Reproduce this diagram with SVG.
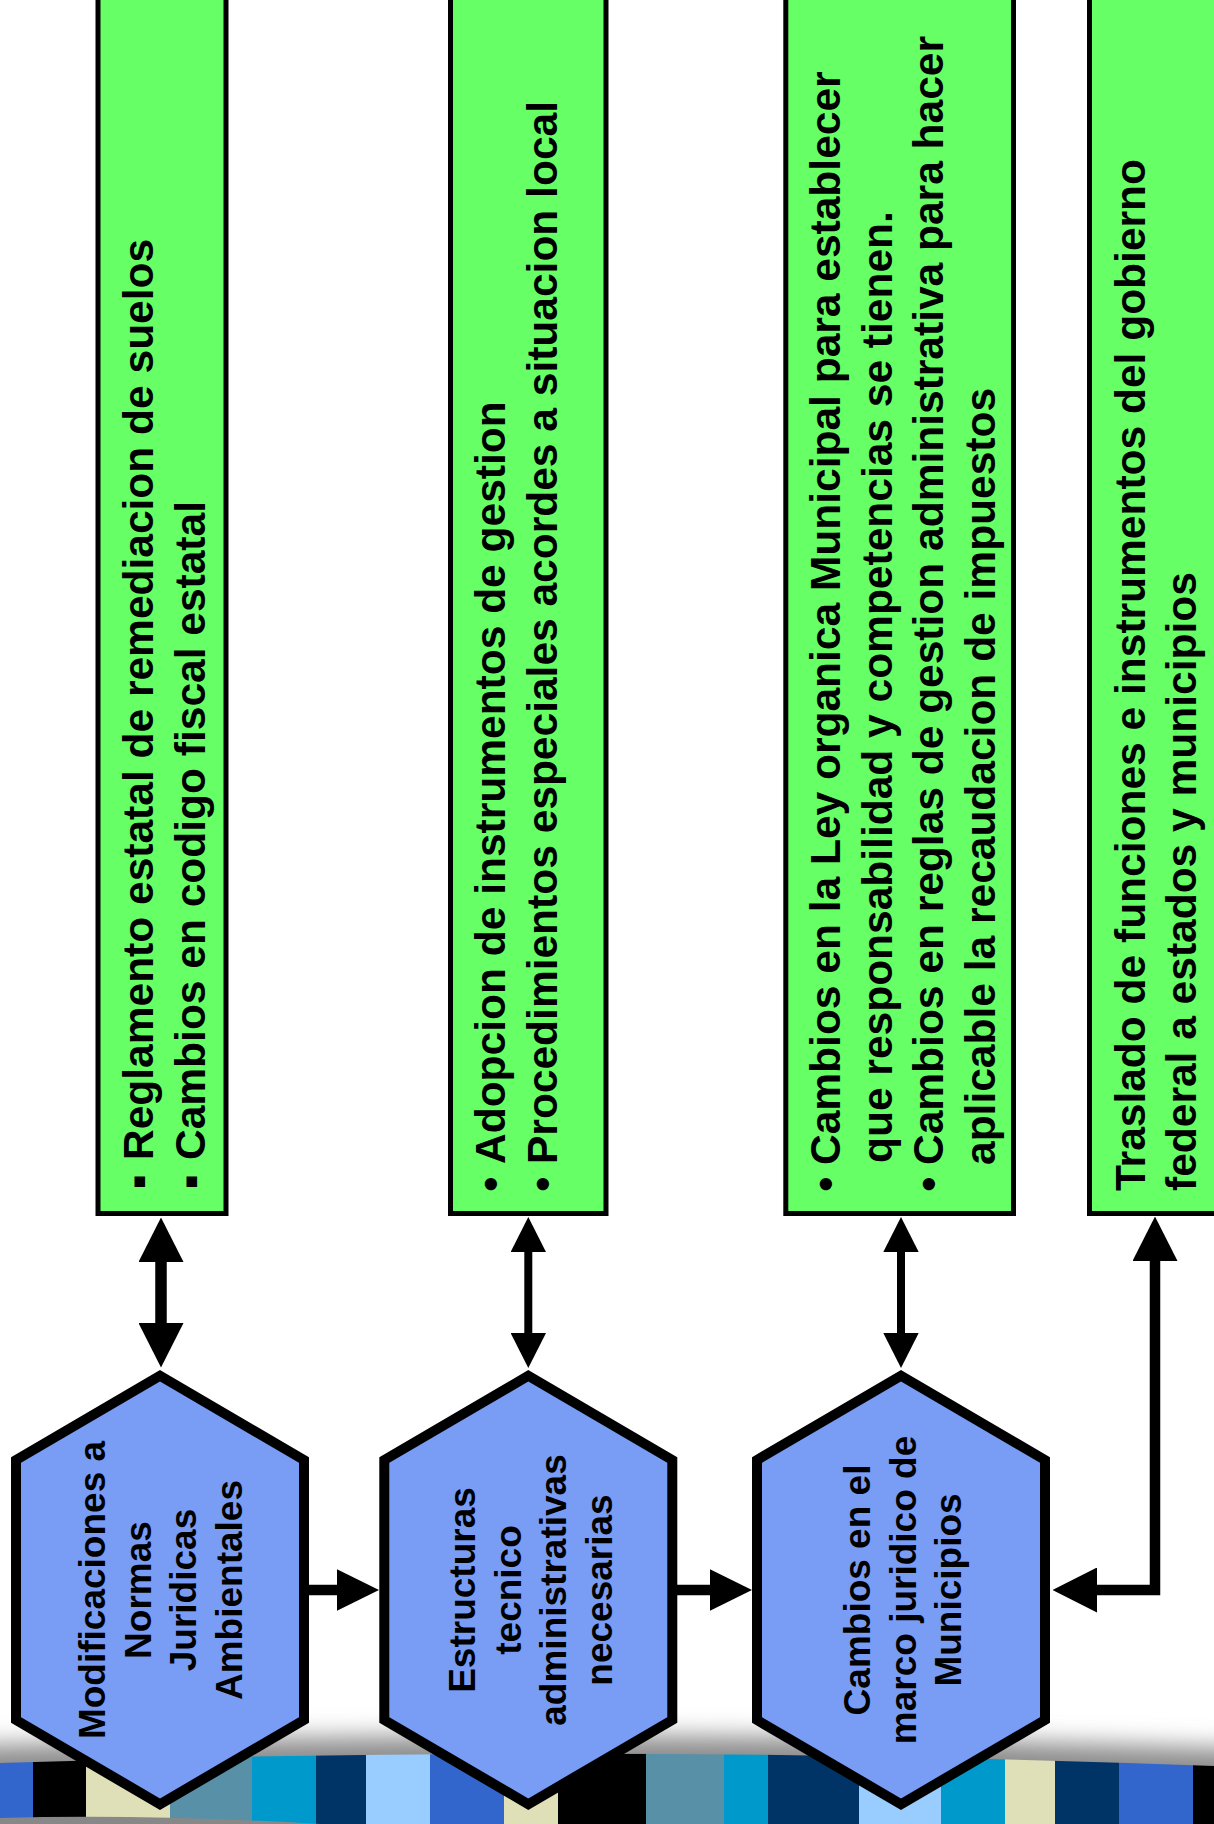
<svg xmlns="http://www.w3.org/2000/svg" width="1214" height="1824" viewBox="0 0 1214 1824">
<defs>
<style>
.box{fill:#66FF66;stroke:#000;stroke-width:5}
.hex{fill:#799DF5;stroke:#000;stroke-width:10;stroke-linejoin:miter;stroke-miterlimit:10}
.bt{font-family:"Liberation Sans",Arial,sans-serif;font-weight:bold;font-size:42.5px;fill:#000}
.bl{font-family:"Liberation Sans",Arial,sans-serif;font-weight:bold;font-size:42.5px;fill:#000;text-anchor:middle}
.ht{font-family:"Liberation Sans",Arial,sans-serif;font-weight:bold;font-size:37px;fill:#000;text-anchor:middle;dominant-baseline:central}
.con{fill:none;stroke:#000;stroke-linejoin:miter}
</style>
<marker id="ahL" viewBox="0 0 44.5 45" markerWidth="44.5" markerHeight="45" refX="0" refY="22.5" orient="auto-start-reverse" markerUnits="userSpaceOnUse"><path d="M0,0 L44.5,22.5 L0,45 Z" fill="#000"/></marker>
<marker id="ahS" viewBox="0 0 35 35.4" markerWidth="35" markerHeight="35.4" refX="0" refY="17.7" orient="auto-start-reverse" markerUnits="userSpaceOnUse"><path d="M0,0 L35,17.7 L0,35.4 Z" fill="#000"/></marker>
<marker id="ahH" viewBox="0 0 42 41.4" markerWidth="42" markerHeight="41.4" refX="0" refY="20.7" orient="auto" markerUnits="userSpaceOnUse"><path d="M0,0 L42,20.7 L0,41.4 Z" fill="#000"/></marker>
<filter id="sh" x="0" y="-1" width="1" height="3"><feGaussianBlur stdDeviation="0 12"/></filter>
<clipPath id="band"><path d="M0,1763 Q607,1743 1214,1766 L1214,1824 L0,1824 Z"/></clipPath>
</defs>

<g id="background">
<path d="M0,1745 Q607,1725 1214,1748 L1214,1800 L0,1800 Z" fill="#8c8c8c" filter="url(#sh)"/>
<g clip-path="url(#band)">
<rect x="0" y="1730" width="33" height="94" fill="#3366CC"/>
<rect x="33" y="1730" width="53" height="94" fill="#000"/>
<rect x="86" y="1730" width="84" height="94" fill="#E0E0B8"/>
<rect x="170" y="1730" width="82" height="94" fill="#5890A8"/>
<rect x="252" y="1730" width="64" height="94" fill="#0099CC"/>
<rect x="316" y="1730" width="50" height="94" fill="#003366"/>
<rect x="366" y="1730" width="64" height="94" fill="#99CCFF"/>
<rect x="430" y="1730" width="74" height="94" fill="#3366CC"/>
<rect x="504" y="1730" width="54" height="94" fill="#E0E0B8"/>
<rect x="558" y="1730" width="88" height="94" fill="#000"/>
<rect x="646" y="1730" width="78" height="94" fill="#5890A8"/>
<rect x="724" y="1730" width="44" height="94" fill="#0099CC"/>
<rect x="768" y="1730" width="91" height="94" fill="#003366"/>
<rect x="859" y="1730" width="82" height="94" fill="#99CCFF"/>
<rect x="941" y="1730" width="64" height="94" fill="#0099CC"/>
<rect x="1005" y="1730" width="50" height="94" fill="#E0E0B8"/>
<rect x="1055" y="1730" width="64" height="94" fill="#003366"/>
<rect x="1119" y="1730" width="74" height="94" fill="#3366CC"/>
<rect x="1193" y="1730" width="21" height="94" fill="#000"/>
</g>
<path d="M0,1818 Q150,1814 320,1824 L0,1824 Z" fill="#888"/>
</g>

<g id="connectors">
<path class="con" d="M161,1262 V1323" stroke-width="11.5" marker-start="url(#ahL)" marker-end="url(#ahL)"/>
<path class="con" d="M528.3,1252 V1333" stroke-width="8" marker-start="url(#ahS)" marker-end="url(#ahS)"/>
<path class="con" d="M901,1252 V1333" stroke-width="8" marker-start="url(#ahS)" marker-end="url(#ahS)"/>
<path class="con" d="M1155,1261 V1590 H1097" stroke-width="10.5" marker-start="url(#ahL)" marker-end="url(#ahL)"/>
<path class="con" d="M309,1590 H337" stroke-width="10.5" marker-end="url(#ahH)"/>
<path class="con" d="M677,1590 H710" stroke-width="10.5" marker-end="url(#ahH)"/>
</g>

<g id="box1">
<rect class="box" x="98" y="-3" width="128" height="1216.5"/>
<text class="bl" transform="translate(153,1182) rotate(-90)">▪</text>
<text class="bl" transform="translate(205,1182) rotate(-90)">▪</text>
<text class="bt" transform="translate(153,1160) rotate(-90)">Reglamento estatal de remediacion de suelos</text>
<text class="bt" transform="translate(205,1160) rotate(-90)">Cambios en codigo fiscal estatal</text>
</g>

<g id="box2">
<rect class="box" x="450.5" y="-3" width="155.5" height="1216.5"/>
<text class="bl" transform="translate(505,1184) rotate(-90)">•</text>
<text class="bl" transform="translate(557,1184) rotate(-90)">•</text>
<text class="bt" transform="translate(505,1164) rotate(-90)">Adopcion de instrumentos de gestion</text>
<text class="bt" transform="translate(557,1164) rotate(-90)">Procedimientos especiales acordes a situacion local</text>
</g>

<g id="box3">
<rect class="box" x="785.8" y="-3" width="227.7" height="1216.5"/>
<text class="bl" transform="translate(840,1184) rotate(-90)">•</text>
<text class="bl" transform="translate(943,1184) rotate(-90)">•</text>
<text class="bt" transform="translate(840,1165) rotate(-90)">Cambios en la Ley organica Municipal para establecer</text>
<text class="bt" transform="translate(891.6,1163) rotate(-90)">que responsabilidad y competencias se tienen.</text>
<text class="bt" transform="translate(943,1165) rotate(-90)">Cambios en reglas de gestion administrativa para hacer</text>
<text class="bt" transform="translate(995,1165) rotate(-90)">aplicable la recaudacion de impuestos</text>
</g>

<g id="box4">
<rect class="box" x="1089.5" y="-3" width="200" height="1216.5"/>
<text class="bt" transform="translate(1145,1191) rotate(-90)">Traslado de funciones e instrumentos del gobierno</text>
<text class="bt" transform="translate(1196,1191) rotate(-90)">federal a estados y municipios</text>
</g>

<g id="hex1">
<polygon class="hex" points="160,1375.8 304,1460 304,1720 160,1804.2 16,1720 16,1460"/>
<text class="ht" transform="translate(92.75,1590) rotate(-90)">Modificaciones a</text>
<text class="ht" transform="translate(138.25,1590) rotate(-90)">Normas</text>
<text class="ht" transform="translate(183.75,1590) rotate(-90)">Juridicas</text>
<text class="ht" transform="translate(229.25,1590) rotate(-90)">Ambientales</text>
</g>

<g id="hex2">
<polygon class="hex" points="528.3,1375.8 672.3,1460 672.3,1720 528.3,1804.2 384.3,1720 384.3,1460"/>
<text class="ht" transform="translate(462.75,1590) rotate(-90)">Estructuras</text>
<text class="ht" transform="translate(508.25,1590) rotate(-90)">tecnico</text>
<text class="ht" transform="translate(553.75,1590) rotate(-90)">administrativas</text>
<text class="ht" transform="translate(599.25,1590) rotate(-90)">necesarias</text>
</g>

<g id="hex3">
<polygon class="hex" points="901,1375.8 1045,1460 1045,1720 901,1804.2 757,1720 757,1460"/>
<text class="ht" transform="translate(857.5,1590) rotate(-90)">Cambios en el</text>
<text class="ht" transform="translate(903,1590) rotate(-90)">marco juridico de</text>
<text class="ht" transform="translate(948.5,1590) rotate(-90)">Municipios</text>
</g>
</svg>
